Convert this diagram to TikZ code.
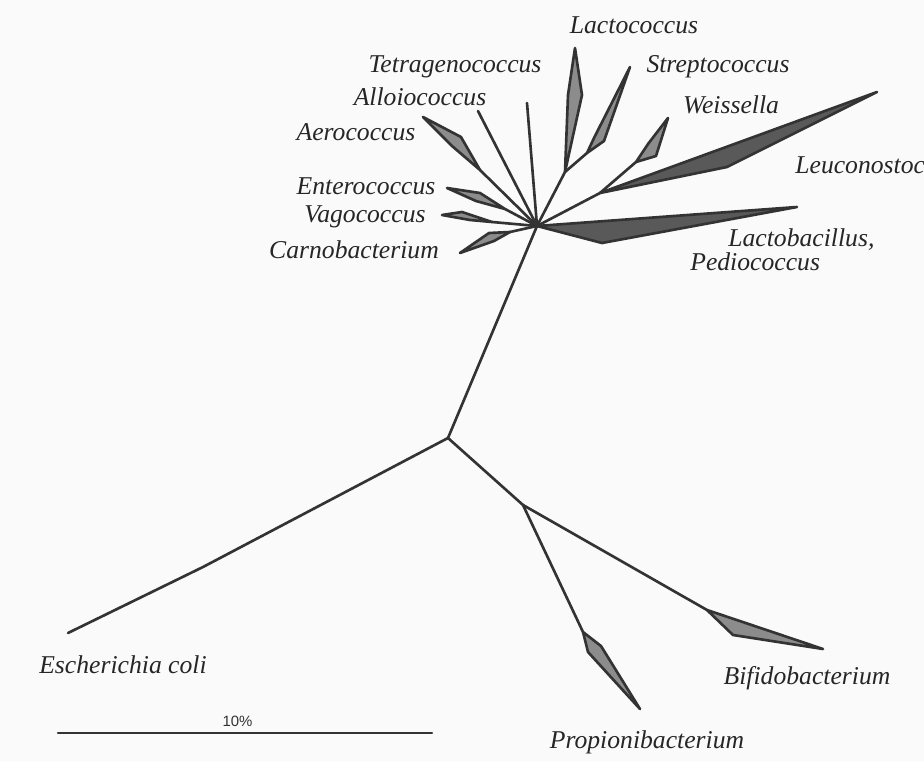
\documentclass[tikz,border=0pt]{standalone}
\usepackage{fontspec}
\setmainfont{Liberation Serif}
\newfontfamily\barfont{Liberation Sans}
\usetikzlibrary{positioning}

\begin{document}
\begin{tikzpicture}[
      x=0.02cm, y=-0.02cm,
      taxon/.style={font=\fontsize{14.6}{16}\selectfont\itshape, text=black!85, inner sep=0pt},
      branch/.style={draw=black!80, line width=1.5pt, line join=round, line cap=round},
      wedge/.style={branch, fill=black!45},
      darkwedge/.style={branch, fill=black!65}
    ]
    \fill[black!2] (0,0) rectangle (924,761);
    \useasboundingbox (0,0) rectangle (924,761);

    % inner junctions
    \coordinate (hub)  at (537,226);
    \coordinate (root) at (448,438);
    \coordinate (jS)   at (565,172);
    \coordinate (jW)   at (600,193);
    \coordinate (jP)   at (523,505);
    \coordinate (ecbend) at (203,567);

    % branch tips
    \coordinate (tetra) at (527,103);
    \coordinate (allo)  at (478,111);
    \coordinate (aero)  at (480,170);
    \coordinate (entero) at (505,209);
    \coordinate (vago)  at (492,222);
    \coordinate (carno) at (510,232);
    \coordinate (streps) at (587,153);
    \coordinate (weiss) at (636,162);
    \coordinate (ecoli) at (68,633);
    \coordinate (propi) at (583,632);
    \coordinate (bifi)  at (707,610);

    % labels
    \node[taxon] (lLactoc) at (634,25)  {Lactococcus};
    \node[taxon] (lStrep)  at (718,67)  {Streptococcus};
    \node[taxon] (lTetra)  at (455,67)  {Tetragenococcus};
    \node[taxon] (lAllo)   at (420,97)  {Alloiococcus};
    \node[taxon] (lWeiss)  at (731,105) {Weissella};
    \node[taxon] (lAero)   at (356,132) {Aerococcus};
    \node[taxon, anchor=west] (lLeuco) at (795,165) {Leuconostoc};
    \node[taxon] (lEntero) at (366,186) {Enterococcus};
    \node[taxon] (lVago)   at (365,217) {Vagococcus};
    \node[taxon] (lCarno)  at (354,250) {Carnobacterium};
    \node[taxon, anchor=west] (lLactob) at (728,240) {Lactobacillus,};
    \node[taxon, anchor=west] (lPedio)  at (690,262) {Pediococcus};
    \node[taxon] (lEcoli)  at (123,665) {Escherichia coli};
    \node[taxon] (lBifi)   at (807,678) {Bifidobacterium};
    \node[taxon] (lPropi)  at (647,742) {Propionibacterium};

    % left fan
    \draw[branch] (hub) -- (tetra);
    \draw[branch] (hub) -- (allo);
    \draw[branch] (hub) -- (aero);
    \filldraw[wedge] (aero) -- (461,137) -- (423,117) -- (452,146) -- cycle;
    \draw[branch] (hub) -- (entero);
    \filldraw[wedge] (entero) -- (480,193) -- (447,188) -- (476,201) -- cycle;
    \draw[branch] (hub) -- (vago);
    \filldraw[wedge] (vago) -- (462,212) -- (442,215) -- (470,220) -- cycle;
    \draw[branch] (hub) -- (carno);
    \filldraw[wedge] (carno) -- (489,233) -- (460,253) -- (494,241) -- cycle;

    % right fan
    \draw[branch] (hub) -- (jS);
    \filldraw[wedge] (jS) -- (582,95) -- (575,48) -- (568,95) -- cycle;
    \draw[branch] (jS) -- (streps);
    \filldraw[wedge] (streps) -- (604,141) -- (630,67) -- (594,138) -- cycle;
    \draw[branch] (hub) -- (jW);
    \draw[branch] (jW) -- (weiss);
    \filldraw[wedge] (weiss) -- (656,156) -- (668,118) -- (648,144) -- cycle;
    \filldraw[darkwedge] (jW) -- (877,92) -- (727,167) -- cycle;
    \filldraw[darkwedge] (hub) -- (797,207) -- (602,243) -- cycle;

    % outgroups
    \draw[branch] (hub) -- (root);
    \draw[branch] (root) -- (ecbend) -- (ecoli);
    \draw[branch] (root) -- (jP);
    \draw[branch] (jP) -- (propi);
    \filldraw[wedge] (propi) -- (601,646) -- (640,709) -- (588,652) -- cycle;
    \draw[branch] (jP) -- (bifi);
    \filldraw[wedge] (bifi) -- (823,649) -- (733,635) -- cycle;

    % scale bar
    \coordinate (barL) at (58,733);
    \coordinate (barR) at (432,733);
    \draw[branch, line width=1.2pt] (barL) -- node[pos=0.48, above=3pt, font=\barfont\fontsize{8.5}{10}\selectfont, text=black!80, inner sep=0pt] (lBar) {10\%} (barR);
  \end{tikzpicture}
\end{document}
